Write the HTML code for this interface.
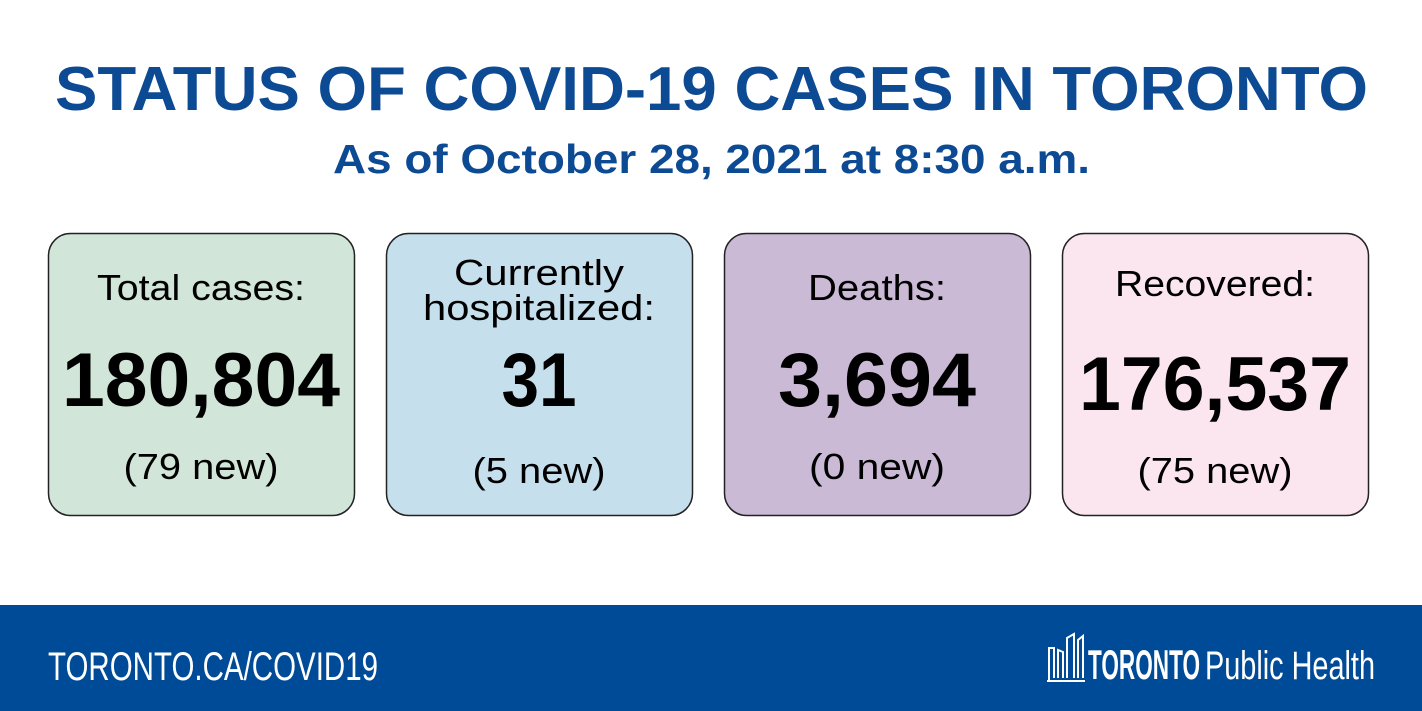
<!DOCTYPE html>
<html><head><meta charset="utf-8"><style>
html,body{margin:0;padding:0;background:#fff;width:1422px;height:711px;overflow:hidden}
svg{display:block}
text{font-family:"Liberation Sans",sans-serif}
</style></head><body>
<svg width="1422" height="711" viewBox="0 0 1422 711">
<rect width="1422" height="711" fill="#fff"/>
<text x="55" y="110" textLength="1313" lengthAdjust="spacingAndGlyphs" font-size="62" font-weight="bold" fill="#0d4a94">STATUS OF COVID-19 CASES IN TORONTO</text>
<text x="333" y="173" textLength="757" lengthAdjust="spacingAndGlyphs" font-size="41" font-weight="bold" fill="#0d4a94">As of October 28, 2021 at 8:30 a.m.</text>

<g>
<rect x="48.5" y="233.5" width="306" height="282" rx="22" fill="#d1e5d8" stroke="#222" stroke-width="1.5"/>
<text x="201" y="300" text-anchor="middle" font-size="36" fill="#000" textLength="208" lengthAdjust="spacingAndGlyphs">Total cases:</text>
<text x="201" y="406" text-anchor="middle" font-size="76" font-weight="bold" fill="#000" textLength="278" lengthAdjust="spacingAndGlyphs">180,804</text>
<text x="201" y="479" text-anchor="middle" font-size="36" fill="#000" textLength="155" lengthAdjust="spacingAndGlyphs">(79 new)</text>
</g>
<g>
<rect x="386.5" y="233.5" width="306" height="282" rx="22" fill="#c6dfec" stroke="#222" stroke-width="1.5"/>
<text x="539" y="285" text-anchor="middle" font-size="36" fill="#000" textLength="170" lengthAdjust="spacingAndGlyphs">Currently</text>
<text x="539" y="320" text-anchor="middle" font-size="36" fill="#000" textLength="232" lengthAdjust="spacingAndGlyphs">hospitalized:</text>
<text x="539" y="406" text-anchor="middle" font-size="76" font-weight="bold" fill="#000" textLength="75" lengthAdjust="spacingAndGlyphs">31</text>
<text x="539" y="483" text-anchor="middle" font-size="36" fill="#000" textLength="133" lengthAdjust="spacingAndGlyphs">(5 new)</text>
</g>
<g>
<rect x="724.5" y="233.5" width="306" height="282" rx="22" fill="#cabad6" stroke="#222" stroke-width="1.5"/>
<text x="877" y="300" text-anchor="middle" font-size="36" fill="#000" textLength="138" lengthAdjust="spacingAndGlyphs">Deaths:</text>
<text x="877" y="406" text-anchor="middle" font-size="76" font-weight="bold" fill="#000" textLength="198" lengthAdjust="spacingAndGlyphs">3,694</text>
<text x="877" y="479" text-anchor="middle" font-size="36" fill="#000" textLength="136" lengthAdjust="spacingAndGlyphs">(0 new)</text>
</g>
<g>
<rect x="1062.5" y="233.5" width="306" height="282" rx="22" fill="#fbe6ef" stroke="#222" stroke-width="1.5"/>
<text x="1215" y="296" text-anchor="middle" font-size="36" fill="#000" textLength="200" lengthAdjust="spacingAndGlyphs">Recovered:</text>
<text x="1215" y="410" text-anchor="middle" font-size="76" font-weight="bold" fill="#000" textLength="272" lengthAdjust="spacingAndGlyphs">176,537</text>
<text x="1215" y="483" text-anchor="middle" font-size="36" fill="#000" textLength="155" lengthAdjust="spacingAndGlyphs">(75 new)</text>
</g>

<rect x="0" y="605" width="1422" height="106" fill="#004b97"/>
<text x="48" y="680" textLength="330" lengthAdjust="spacingAndGlyphs" font-size="40" fill="#fff">TORONTO.CA/COVID19</text>
<g fill="none" stroke="#fff" stroke-width="2">
<path d="M1049 680 L1049 648 L1054 648 L1054 678 M1058 678 L1058 650 L1063 652 L1063 678 M1067 678 L1067 638 L1074 634 L1074 678 M1078 678 L1078 640 L1083 636 L1083 678 M1047 681 L1085 681"/>
</g>
<text x="1088" y="679" textLength="112" lengthAdjust="spacingAndGlyphs" font-size="42" font-weight="bold" fill="#fff">TORONTO</text>
<text x="1205" y="679" textLength="170" lengthAdjust="spacingAndGlyphs" font-size="40" fill="#fff">Public Health</text>
</svg>
</body></html>
